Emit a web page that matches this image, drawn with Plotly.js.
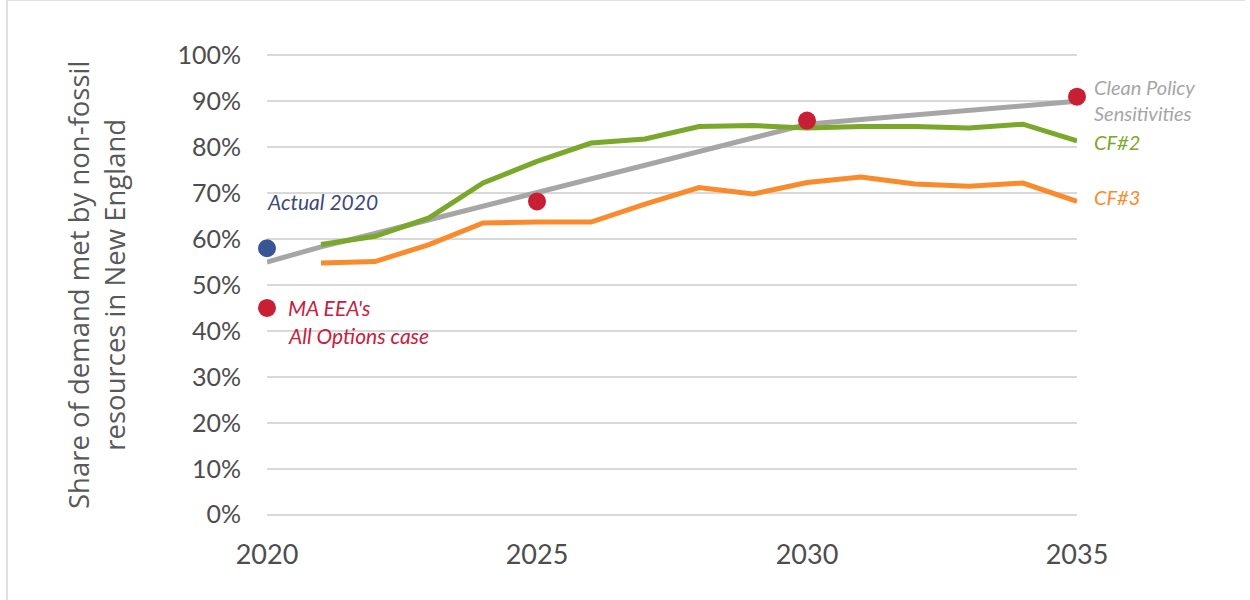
<!DOCTYPE html>
<html>
<head>
<meta charset="utf-8">
<script src="https://cdn.plot.ly/plotly-3.0.1.min.js"></script>
<style>html,body{margin:0;padding:0;background:#fff;}#chart{width:1250px;height:600px;}</style>
</head>
<body>
<div id="chart"></div>
<script>
const years = [2020,2021,2022,2023,2024,2025,2026,2027,2028,2029,2030,2031,2032,2033,2034,2035];
const cleanPolicy = [55, 58.3, 61.2, 64.2, 67.1, 70, 73, 76, 79, 82, 85, 86, 87, 88, 89, 90];
const cfYears = [2021,2022,2023,2024,2025,2026,2027,2028,2029,2030,2031,2032,2033,2034,2035];
const cf2 = [58.8, 60.6, 64.6, 72.2, 76.9, 80.9, 81.8, 84.5, 84.7, 84.2, 84.5, 84.5, 84.2, 85.0, 81.4];
const cf3 = [54.8, 55.1, 58.8, 63.5, 63.7, 63.7, 67.6, 71.2, 69.8, 72.3, 73.5, 72.0, 71.5, 72.2, 68.2];
const actualYears = [2020];
const actual = [58.0];
const maYears = [2020, 2025, 2030, 2035];
const maEEA = [45, 68.2, 85.8, 91.0];
const xTicks = [2020, 2025, 2030, 2035];
const yTicks = [0,10,20,30,40,50,60,70,80,90,100];

const FONT = 'Lato, "Open Sans", sans-serif';
const traces = [
  {x: years, y: cleanPolicy, mode: 'lines', name: 'Clean Policy Sensitivities',
   line: {color: '#a6a6a6', width: 5}},
  {x: cfYears, y: cf2, mode: 'lines', name: 'CF#2',
   line: {color: '#79a82a', width: 5}},
  {x: cfYears, y: cf3, mode: 'lines', name: 'CF#3',
   line: {color: '#fa8b2c', width: 5}},
  {x: actualYears, y: actual, mode: 'markers', name: 'Actual 2020', cliponaxis: false,
   marker: {color: '#3a5594', size: 18}},
  {x: maYears, y: maEEA, mode: 'markers', name: "MA EEA's All Options case", cliponaxis: false,
   marker: {color: '#c81f35', size: 18}}
];

function ann(text, x, y, color, xshift, size) {
  return {text: text, x: x, y: y, xref: 'x', yref: 'y', xanchor: 'left', yanchor: 'middle',
    xshift: xshift, showarrow: false,
    font: {family: FONT, size: size, color: color, style: 'italic'}};
}

const layout = {
  width: 1250, height: 600,
  margin: {l: 267, r: 173, t: 53, b: 83},
  paper_bgcolor: '#ffffff', plot_bgcolor: '#ffffff',
  showlegend: false,
  xaxis: {range: [2020, 2035], tickvals: xTicks, ticktext: xTicks.map(String),
    showgrid: false, zeroline: false, showline: false, ticks: '',
    ticklabelstandoff: 19,
    tickfont: {family: FONT, size: 27, color: '#4d4d4d'}},
  yaxis: {range: [-0.5, 100.5], tickvals: yTicks, ticktext: yTicks.map(v => v + '%'),
    showgrid: true, gridcolor: '#d9d9d9', gridwidth: 2, zeroline: false, showline: false,
    ticks: '', ticklabelstandoff: 25,
    tickfont: {family: FONT, size: 25, color: '#4d4d4d'}},
  annotations: [
    {text: 'Share of demand met by non-fossil<br>resources in New England', textangle: -90,
     xref: 'paper', yref: 'paper', x: (96 - 267) / 810, y: 0.5, xanchor: 'center', yanchor: 'middle',
     showarrow: false, font: {family: '"Open Sans", sans-serif', size: 27.5, color: '#595959'}},
    ann('Actual 2020', 2020, 68.1, '#3d4a7c', -2, 21),
    ann("MA EEA's", 2020, 45.0, '#c8203c', 19, 21),
    ann('All Options case', 2020, 39.0, '#c8203c', 19, 21),
    ann('Clean Policy', 2035, 93.1, '#a6a6a6', 15, 20),
    ann('Sensitivities', 2035, 87.5, '#a6a6a6', 15, 20),
    ann('CF#2', 2035, 81.2, '#79a82a', 15, 20),
    ann('CF#3', 2035, 69.2, '#fa8b2c', 15, 20)
  ],
  shapes: [
    {type: 'line', xref: 'paper', yref: 'paper', x0: (7 - 267) / 810, x1: (7 - 267) / 810,
     y0: (515 - 600) / 459.5, y1: (515 - 3) / 459.5, line: {color: '#d6d6d6', width: 1.5}},
    {type: 'line', xref: 'paper', yref: 'paper', x0: (7 - 267) / 810, x1: (1245 - 267) / 810,
     y0: (515 - 3) / 459.5, y1: (515 - 3) / 459.5, line: {color: '#d6d6d6', width: 1.5}}
  ]
};

Plotly.newPlot('chart', traces, layout, {displayModeBar: false, staticPlot: true});
</script>
</body>
</html>
